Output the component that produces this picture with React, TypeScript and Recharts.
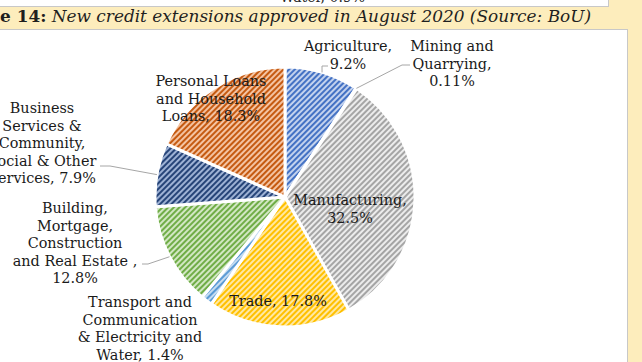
import React from 'react'
import { PieChart, Pie, Cell } from 'recharts'

// sector shares of new credit extensions (%)
const sectors = [
  'Agriculture',
  'Mining and Quarrying',
  'Manufacturing',
  'Trade',
  'Transport and Communication & Electricity and Water',
  'Building, Mortgage, Construction and Real Estate',
  'Business Services & Community, Social & Other Services',
  'Personal Loans and Household Loans',
]
const shares = [9.2, 0.11, 32.5, 17.8, 1.4, 12.8, 7.9, 18.3]

const labelRows = [
  ['Agriculture,', `${shares[0]}%`],
  ['Mining and', 'Quarrying,', `${shares[1]}%`],
  ['Manufacturing,', `${shares[2]}%`],
  [`Trade, ${shares[3]}%`],
  ['Transport and', 'Communication', '& Electricity and', `Water, ${shares[4]}%`],
  ['Building,', 'Mortgage,', 'Construction', 'and Real Estate ,', `${shares[5]}%`],
  ['Business', 'Services &', 'Community,', 'Social & Other', `Services, ${shares[6]}%`],
  ['Personal Loans', 'and Household', `Loans, ${shares[7]}%`],
]

const data = sectors.map((name, i) => ({ name, value: shares[i] }))

// stripe colour / background tint per slice
const stripes = [
  ['#4472C4', '#C3D2EE'],
  ['#ED7D31', '#F8CBAD'],
  ['#A5A5A5', '#ECECEC'],
  ['#FFC000', '#FFE8A3'],
  ['#5B9BD5', '#C6DCF1'],
  ['#70AD47', '#D2E7C3'],
  ['#264478', '#9DB1D4'],
  ['#C55A11', '#F4C3A2'],
]

// label placement relative to pie centre, plus optional leader elbow/end
const labelLayout: { dx: number; dy: number; leader?: number[] }[] = [
  { dx: 63, dy: -151, leader: [37, -131, 43, -131] },
  { dx: 167, dy: -151, leader: [117, -132, 125, -132] },
  { dx: 65, dy: 3 },
  { dx: -7, dy: 104 },
  { dx: -145, dy: 105 },
  { dx: -210, dy: 11, leader: [-137, 67, -143, 67] },
  { dx: -243, dy: -89, leader: [-175, -31, -185, -31] },
  { dx: -74, dy: -116 },
]

const RAD = Math.PI / 180
const font = "'DejaVu Serif', serif"

const renderLabel = (props: any) => {
  const { cx, cy, midAngle, outerRadius, index } = props
  const L = labelLayout[index]
  const rows = labelRows[index]
  const ex = cx + outerRadius * Math.cos(-midAngle * RAD)
  const ey = cy + outerRadius * Math.sin(-midAngle * RAD)
  return (
    <g key={'lbl' + index}>
      {L.leader && (
        <polyline
          points={`${ex},${ey} ${cx + L.leader[0]},${cy + L.leader[1]} ${cx + L.leader[2]},${cy + L.leader[3]}`}
          fill="none"
          stroke="#A6A6A6"
          strokeWidth={1}
        />
      )}
      {rows.map((r, i) => (
        <text
          key={i}
          x={cx + L.dx}
          y={cy + L.dy + i * 17.5}
          textAnchor="middle"
          dominantBaseline="central"
          fontFamily={font}
          fontSize={14.4}
          fill="#1A1A1A"
        >
          {r}
        </text>
      ))}
    </g>
  )
}

export default function App() {
  return (
    <div style={{ position: 'absolute', left: 0, top: 0, width: 642, height: 362, overflow: 'hidden', background: '#FDEDBC' }}>
      {/* bottom edge of previous figure box */}
      <div style={{ position: 'absolute', left: -2, top: -20, width: 610, height: 26, background: '#fff', borderBottom: '1px solid #C8C8C8', borderRight: '1px solid #C8C8C8', overflow: 'hidden' }}>
        <span style={{ position: 'absolute', left: 282, top: 9, fontFamily: font, fontSize: 14, color: '#262626' }}>Water, 0.9%</span>
      </div>
      <div style={{ position: 'absolute', left: 0, top: 6, fontFamily: font, fontSize: 16.9, fontStyle: 'italic', color: '#1F1F1F', whiteSpace: 'nowrap' }}>
        <b style={{ fontStyle: 'normal' }}>e 14:</b> New credit extensions approved in August 2020 (Source: BoU)
      </div>
      <div style={{ position: 'absolute', left: -2, top: 29, width: 628, height: 340, background: '#fff', border: '1px solid #C8C8C8' }} />
      <div style={{ position: 'absolute', left: 0, top: 29 }}>
        <PieChart width={626} height={333} margin={{ top: 0, right: 0, bottom: 0, left: 0 }}>
          <defs>
            {stripes.map(([fg, bg], i) => (
              <pattern key={i} id={'hatch' + i} width={4} height={4} patternUnits="userSpaceOnUse" patternTransform="rotate(45)">
                <rect width={4} height={4} fill={bg} />
                <rect width={2} height={4} fill={fg} />
              </pattern>
            ))}
          </defs>
          <Pie
            data={data}
            dataKey="value"
            nameKey="name"
            cx={285}
            cy={168}
            outerRadius={130}
            startAngle={90}
            endAngle={-270}
            stroke="#fff"
            strokeWidth={3}
            label={renderLabel}
            labelLine={false}
            isAnimationActive={false}
          >
            {data.map((d, i) => (
              <Cell key={d.name} fill={`url(#hatch${i})`} />
            ))}
          </Pie>
        </PieChart>
      </div>
    </div>
  )
}
